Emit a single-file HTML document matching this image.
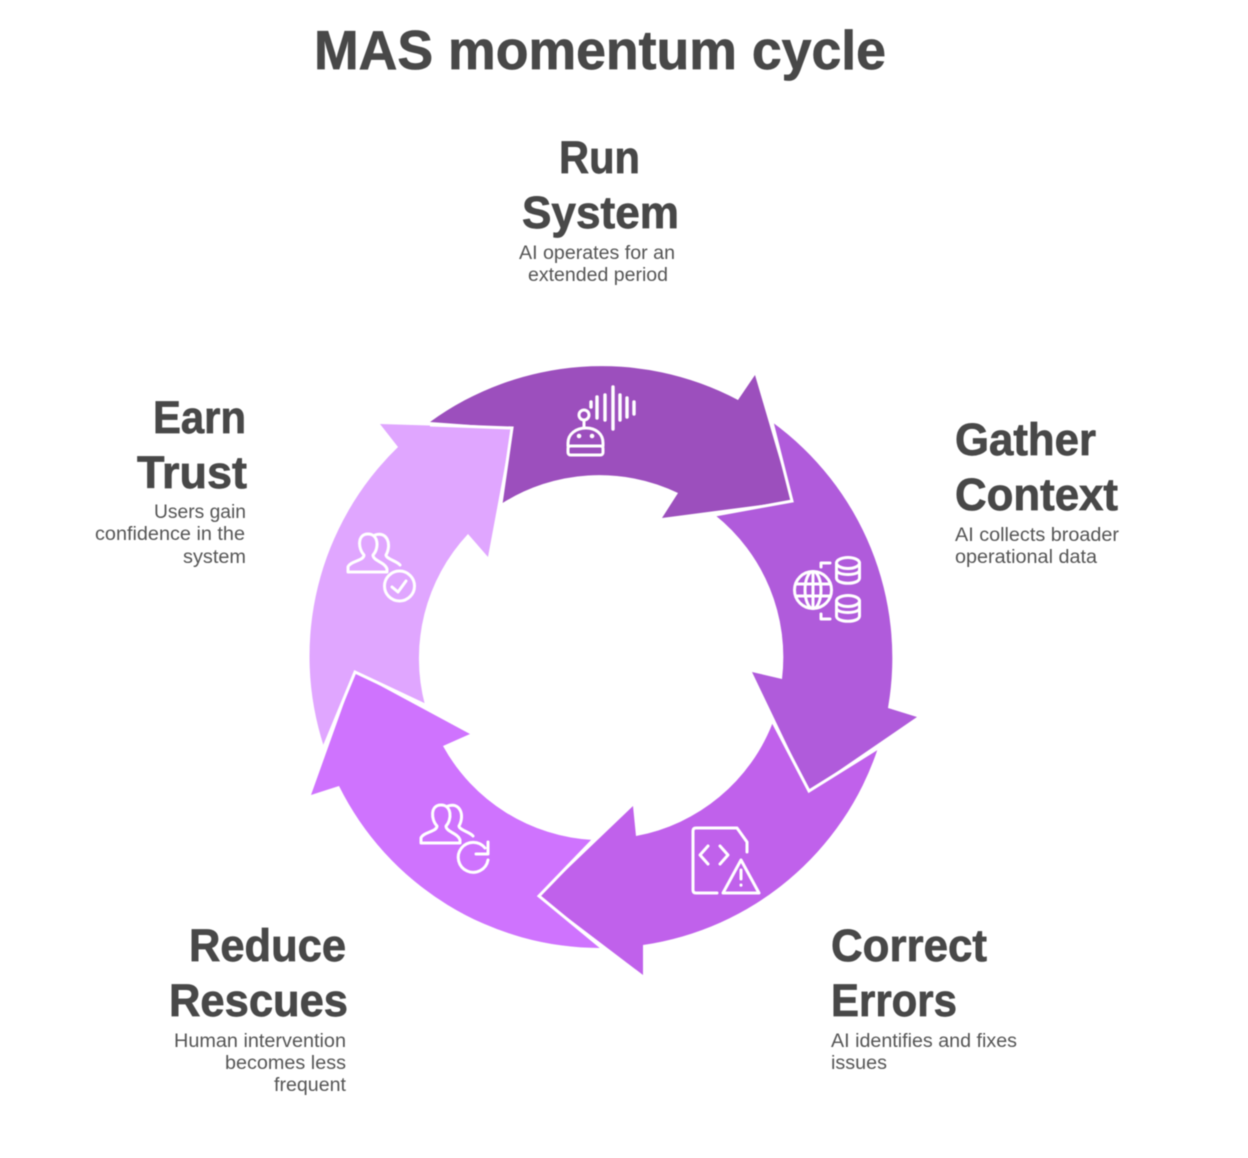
<!DOCTYPE html>
<html><head><meta charset="utf-8"><style>
html,body{margin:0;padding:0;background:#fff}
svg{display:block;filter:blur(.4px)}
.t{font-family:"Liberation Sans",sans-serif;font-weight:700;fill:#484848;stroke:#484848;stroke-width:.7px;font-size:45px}
.s{font-family:"Liberation Sans",sans-serif;fill:#555;font-size:19px}
.i{fill:none;stroke:#fff;stroke-width:3;stroke-linecap:round;stroke-linejoin:round}
.e{fill:none;stroke:#fff;stroke-width:3;stroke-linejoin:miter}
</style></head><body>
<svg width="1248" height="1158" viewBox="0 0 1248 1158" xmlns="http://www.w3.org/2000/svg">
<text class="t" x="314" y="69" style="font-size:55px" textLength="572" lengthAdjust="spacingAndGlyphs">MAS momentum cycle</text>

<!-- arrows -->
<path fill="#9c4fbd" d="M430,422 A291.5,291.5 0 0 1 738,400 L755,375 L792,501 L662,518 L678,493 A182,182 0 0 0 501,504 L512,428 Z"/>
<path fill="#b05bdb" d="M772,422 A291.5,291.5 0 0 1 888,708 L917,717 L809,791 L752,672 L782,679 A182,182 0 0 0 715,515 L792,501 Z"/>
<path fill="#c061eb" d="M878,748 A291.5,291.5 0 0 1 643,945 L643,975 L539,896 L633,806 L636,836 A182,182 0 0 0 773,722 L809,791 Z"/>
<path fill="#cf73fe" d="M602,948 A291.5,291.5 0 0 1 339,786 L311,795 L355,672 L470,734 L443,746 A182,182 0 0 0 593,840 L539,896 Z"/>
<path fill="#e0a6ff" d="M324,747 A291.5,291.5 0 0 1 398,447 L380,424 L512,428 L488,557 L468,534 A182,182 0 0 0 425,705 L355,672 Z"/>
<!-- white separators -->
<polyline class="e" points="772,422 792,501 715,515"/>
<polyline class="e" points="773,722 809,791 878,748"/>
<polyline class="e" points="602,948 539,896 593,840"/>
<polyline class="e" points="324,747 355,672 425,705"/>
<polyline class="e" points="430,425 512,428 501,504"/>

<!-- robot icon -->
<g class="i">
<circle cx="584" cy="415" r="5"/><path d="M584,420 V428"/>
<path d="M568,446 V443 C568,434 576,428 586,428 C596,428 603,434 603,443 V446"/>
<rect x="568" y="446" width="35" height="9" rx="2.5"/>
<path d="M579,436 h.1 M592,436 h.1" stroke-width="4.500"/>
<path d="M591,402 V407 M597,397 V418 M605,395 V420 M613,387 V429 M620,395 V420 M627,398 V417 M634,402 V414" stroke-width="3.400"/>
</g>
<!-- globe + db icon -->
<g class="i">
<circle cx="813" cy="590" r="18.500"/>
<ellipse cx="813" cy="590" rx="8" ry="18.500"/>
<path d="M813,571.500 V608.500 M796,584 H830 M796,596 H830"/>
<path d="M821,567 V563 H830 M821,614 V619 H830"/>
<ellipse cx="848" cy="563" rx="11.500" ry="5.500"/>
<path d="M836.500,563 V578 C836.500,585 859.500,585 859.500,578 V563 M836.500,570 C836.500,576 859.500,576 859.500,570"/>
<ellipse cx="848" cy="601" rx="11.500" ry="5.500"/>
<path d="M836.500,601 V616 C836.500,623 859.500,623 859.500,616 V601 M836.500,608 C836.500,614 859.500,614 859.500,608"/>
</g>
<!-- doc warning icon -->
<g class="i">
<path d="M717,893 H696 Q693,893 693,890 V831 Q693,828 696,828 H737 L747,842 V852"/>
<path d="M708,846 L700,855 L708,864 M720,846 L728,855 L720,864"/>
<path d="M741,860 L759,893 H723 Z"/>
<path d="M741,870 V879 M741,885 V885.200"/>
</g>
<!-- users refresh icon -->
<g class="i">
<path d="M421,843 V838 C423,832 437,832 437,826 C431,820 430,805 441,805 C452,805 452,820 446,826 C446,832 458,833 460,840 V843 Z"/>
<path d="M448,806 C460,802 465,815 459,826 C459,830 470,832 473,836"/>
<path d="M485,848 A15,15 0 1 0 488,860"/>
<path d="M488,842 V854 H476"/>
</g>
<!-- users check icon -->
<g class="i" transform="translate(-73,-271)">
<path d="M421,843 V838 C423,832 437,832 437,826 C431,820 430,805 441,805 C452,805 452,820 446,826 C446,832 458,833 460,840 V843 Z"/>
<path d="M448,806 C460,802 465,815 459,826 C459,830 470,832 473,836"/>
</g>
<g class="i">
<circle cx="399.500" cy="586" r="15"/>
<path d="M392,587 L398,592 L406,581"/>
</g>

<!-- labels -->
<text class="t" x="559" y="173" textLength="81" lengthAdjust="spacingAndGlyphs">Run</text>
<text class="t" x="522" y="228" textLength="157" lengthAdjust="spacingAndGlyphs">System</text>
<text class="s" x="519" y="259" textLength="156" lengthAdjust="spacingAndGlyphs">AI operates for an</text>
<text class="s" x="528" y="281" textLength="140" lengthAdjust="spacingAndGlyphs">extended period</text>

<text class="t" x="153" y="433" textLength="93" lengthAdjust="spacingAndGlyphs">Earn</text>
<text class="t" x="137" y="488" textLength="110" lengthAdjust="spacingAndGlyphs">Trust</text>
<text class="s" x="154" y="518" textLength="92" lengthAdjust="spacingAndGlyphs">Users gain</text>
<text class="s" x="95" y="540" textLength="150" lengthAdjust="spacingAndGlyphs">confidence in the</text>
<text class="s" x="183" y="563" textLength="63" lengthAdjust="spacingAndGlyphs">system</text>

<text class="t" x="955" y="455" textLength="141" lengthAdjust="spacingAndGlyphs">Gather</text>
<text class="t" x="955" y="510" textLength="163" lengthAdjust="spacingAndGlyphs">Context</text>
<text class="s" x="955" y="541" textLength="164" lengthAdjust="spacingAndGlyphs">AI collects broader</text>
<text class="s" x="955" y="563" textLength="142" lengthAdjust="spacingAndGlyphs">operational data</text>

<text class="t" x="831" y="961" textLength="156" lengthAdjust="spacingAndGlyphs">Correct</text>
<text class="t" x="831" y="1016" textLength="126" lengthAdjust="spacingAndGlyphs">Errors</text>
<text class="s" x="831" y="1047" textLength="186" lengthAdjust="spacingAndGlyphs">AI identifies and fixes</text>
<text class="s" x="831" y="1069" textLength="56" lengthAdjust="spacingAndGlyphs">issues</text>

<text class="t" x="189" y="961" textLength="157" lengthAdjust="spacingAndGlyphs">Reduce</text>
<text class="t" x="169" y="1016" textLength="179" lengthAdjust="spacingAndGlyphs">Rescues</text>
<text class="s" x="174" y="1047" textLength="172" lengthAdjust="spacingAndGlyphs">Human intervention</text>
<text class="s" x="225" y="1069" textLength="121" lengthAdjust="spacingAndGlyphs">becomes less</text>
<text class="s" x="274" y="1091" textLength="72" lengthAdjust="spacingAndGlyphs">frequent</text>
</svg>
</body></html>
